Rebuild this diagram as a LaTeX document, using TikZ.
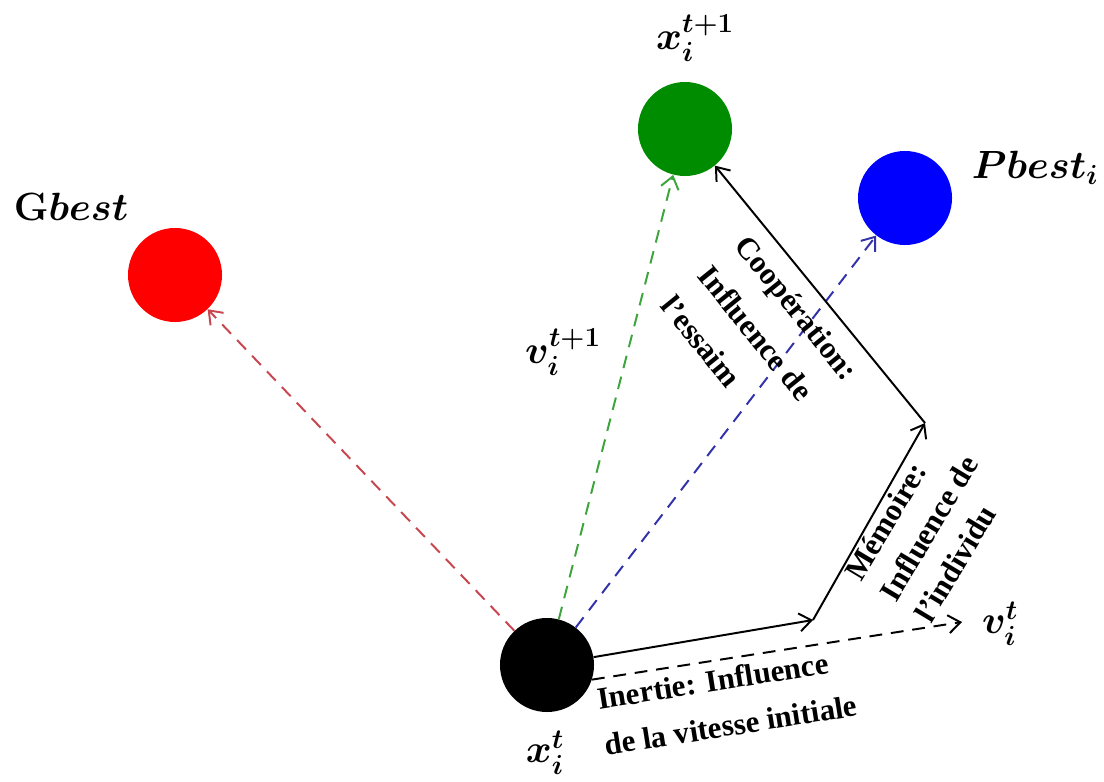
\RequirePackage{fix-cm}
\documentclass[tikz,border=0pt]{standalone}
\usepackage{amsmath,amssymb}
\usepackage{fontspec}
\setmainfont{Liberation Serif}
\usepackage{tikz}
\usetikzlibrary{arrows.meta}
\definecolor{ballred}{RGB}{255,0,0}
\definecolor{ballgreen}{RGB}{0,140,0}
\definecolor{ballblue}{RGB}{0,0,255}
\definecolor{dred}{RGB}{200,70,80}
\definecolor{dgreen}{RGB}{60,165,60}
\definecolor{dblue}{RGB}{50,50,170}
\tikzset{
  ball/.style={circle, inner sep=0pt, minimum size=2.35cm},
  arr/.style={-{Straight Barb[length=3mm, width=4.5mm]}, line width=1.4pt},
  darr/.style={arr, dash pattern=on 3.2mm off 2.2mm},
  lbl/.style={inner sep=0pt, font=\fontsize{28}{32}\selectfont\boldmath},
  note/.style={align=left, inner sep=0pt, font=\fontsize{22}{26}\selectfont\bfseries},
}

\begin{document}
\begin{tikzpicture}[x=0.025cm, y=-0.025cm]
\useasboundingbox (0,0) rectangle (1104,782);
% particles
\node[ball, fill=black] (xt) at (547,665) {};
\node[ball, fill=ballred] (gb) at (175,275) {};
\node[ball, fill=ballgreen] (xn) at (685,129) {};
\node[ball, fill=ballblue] (pb) at (905,198) {};
\coordinate (mem) at (813,620);
\coordinate (coop) at (925,423);
\coordinate (vt) at (962,622);
% labels
\node[lbl] (lgb) at (71,207) {$\mathbf{G}best$};
\node[lbl] (lxn) at (695,38) {$x_i^{t+1}$};
\node[lbl] (lpb) at (1035,168) {$Pbest_i$};
\node[lbl] (lvn) at (563,352) {$v_i^{t+1}$};
\node[lbl] (lvt) at (1000,624) {$v_i^t$};
\node[lbl] (lxt) at (545,753) {$x_i^t$};
% vectors
\draw[darr, dred] (xt) -- (gb);
\draw[darr, dgreen] (xt) -- (xn);
\draw[darr, dblue] (xt) -- (pb);
\draw[darr] (xt.-18) -- (vt);
\draw[arr] (xt) -- (mem);
\draw[arr] (mem) -- (coop);
\draw[arr] (coop) -- (xn);
% components
\node[note, rotate=9] (tin) at (727,702) {Inertie: Influence\\[7pt]de la vitesse initiale};
\node[note, rotate=59] (tme) at (929,528) {Mémoire:\\[3pt]Influence de\\[3pt]l'individu};
\node[note, rotate=-51] (tco) at (760,338) {Coopération:\\[8pt]Influence de\\[8pt]l'essaim};
\end{tikzpicture}
\end{document}
